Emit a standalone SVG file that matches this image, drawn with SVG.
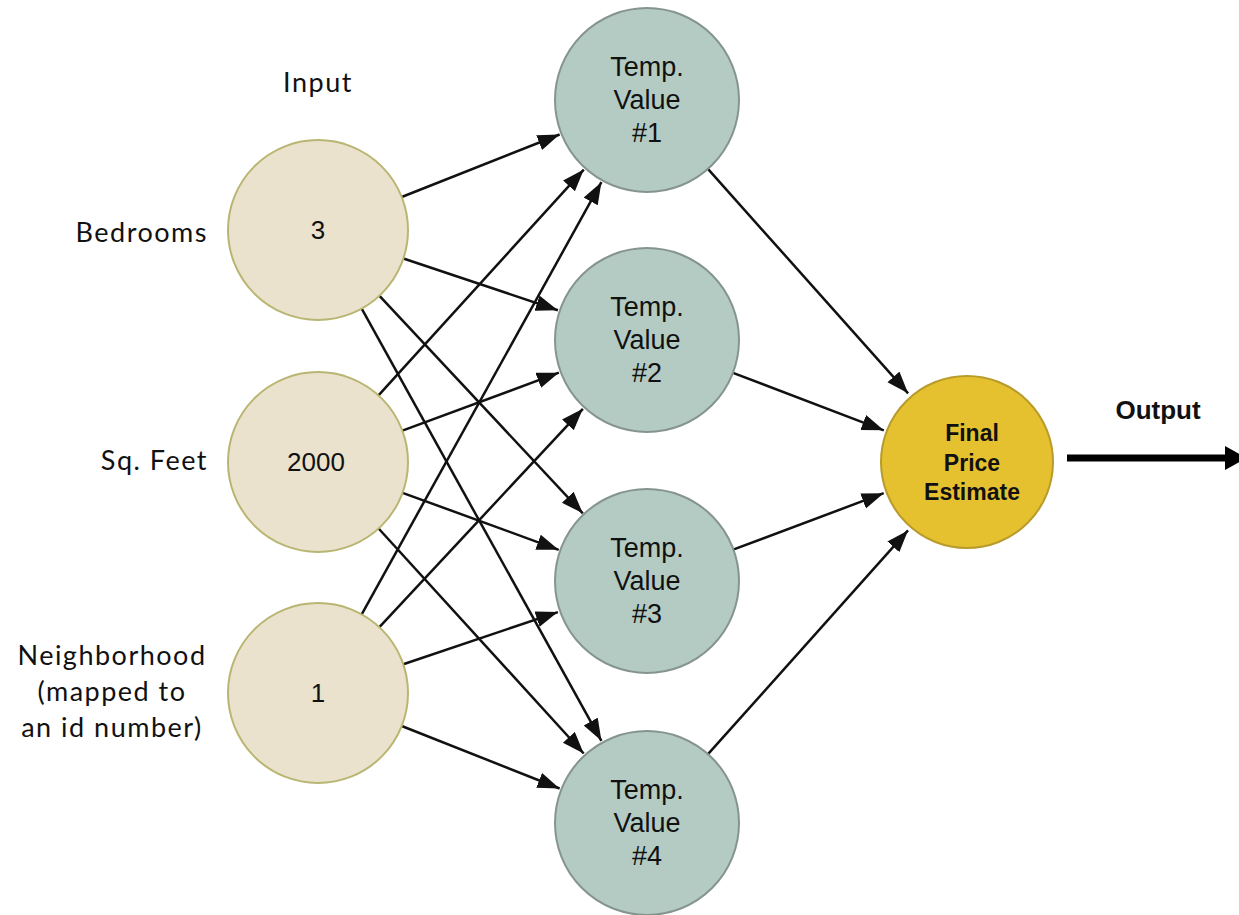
<svg xmlns="http://www.w3.org/2000/svg" width="1239" height="915" viewBox="0 0 1239 915">
<defs>
<style>
.in{fill:#ebe2cd;stroke:#b8b672;stroke-width:2}
.hid{fill:#b4cbc4;stroke:#86948f;stroke-width:2}
.out{fill:#e5c130;stroke:#b89b2a;stroke-width:2}
.edge{stroke:#111;stroke-width:2.5;fill:none;marker-end:url(#ah)}
.lbl{font-family:"Lato","Noto Sans",sans-serif;font-size:27px;letter-spacing:1.5px;fill:#111}
.val{font-family:"Liberation Sans",Arial,sans-serif;font-size:26px;fill:#111;text-anchor:middle}
.tv{font-family:"Liberation Sans",Arial,sans-serif;font-size:27px;fill:#111;text-anchor:middle}
.fp{font-family:"Liberation Sans",Arial,sans-serif;font-size:23px;font-weight:bold;fill:#111;text-anchor:middle}
</style>
<marker id="ah" markerUnits="userSpaceOnUse" markerWidth="24" markerHeight="18" refX="22" refY="8" orient="auto">
<path d="M0,0 L22,8 L0,16 z" fill="#111"/>
</marker>
</defs>
<rect width="1239" height="915" fill="#ffffff"/>

<g id="connectors">
<line class="edge" x1="401.7" y1="197" x2="559.6" y2="134.5"/>
<line class="edge" x1="403.4" y1="258.5" x2="557.9" y2="310.2"/>
<line class="edge" x1="379.5" y1="295.8" x2="582.8" y2="513.3"/>
<line class="edge" x1="361.7" y1="308.7" x2="601.4" y2="740.8"/>
<line class="edge" x1="378.5" y1="395.4" x2="583.8" y2="169.6"/>
<line class="edge" x1="402.4" y1="430.7" x2="558.9" y2="372.7"/>
<line class="edge" x1="402.6" y1="492.8" x2="558.7" y2="549.8"/>
<line class="edge" x1="378.6" y1="528.5" x2="583.7" y2="753.5"/>
<line class="edge" x1="361.7" y1="614.3" x2="601.4" y2="182.2"/>
<line class="edge" x1="379.4" y1="627.2" x2="582.9" y2="408.8"/>
<line class="edge" x1="403.3" y1="664.2" x2="557.9" y2="612.1"/>
<line class="edge" x1="401.7" y1="726" x2="559.6" y2="788.5"/>
<line class="edge" x1="707.9" y1="168.9" x2="908.1" y2="393.3"/>
<line class="edge" x1="733" y1="372.8" x2="883.8" y2="430.3"/>
<line class="edge" x1="733.1" y1="549.7" x2="883.7" y2="493.2"/>
<line class="edge" x1="708" y1="754.2" x2="908" y2="530.4"/>
<line x1="1067" y1="458" x2="1228" y2="458" stroke="#000" stroke-width="7"/>
<polygon points="1225,446 1247,458 1225,470" fill="#000"/>
</g>

<text class="lbl" x="318" y="92" text-anchor="middle">Input</text>
<text class="fp" x="1158" y="419" style="font-size:26px">Output</text>

<g id="in-bedrooms">
<circle class="in" cx="318" cy="230" r="90"/>
<text class="val" x="318" y="239">3</text>
<text class="lbl" x="208" y="242" text-anchor="end">Bedrooms</text>
</g>
<g id="in-sqfeet">
<circle class="in" cx="318" cy="462" r="90"/>
<text class="val" x="316" y="471">2000</text>
<text class="lbl" x="208" y="470" text-anchor="end">Sq. Feet</text>
</g>
<g id="in-neighborhood">
<circle class="in" cx="318" cy="693" r="90"/>
<text class="val" x="318" y="702">1</text>
<text class="lbl" x="112" y="665" text-anchor="middle">Neighborhood</text>
<text class="lbl" x="112" y="701" text-anchor="middle">(mapped to</text>
<text class="lbl" x="112" y="737" text-anchor="middle">an id number)</text>
</g>

<g id="hidden-1">
<circle class="hid" cx="647" cy="100" r="92"/>
<text class="tv" x="647" y="76">Temp.</text>
<text class="tv" x="647" y="109">Value</text>
<text class="tv" x="647" y="142">#1</text>
</g>
<g id="hidden-2">
<circle class="hid" cx="647" cy="340" r="92"/>
<text class="tv" x="647" y="316">Temp.</text>
<text class="tv" x="647" y="349">Value</text>
<text class="tv" x="647" y="382">#2</text>
</g>
<g id="hidden-3">
<circle class="hid" cx="647" cy="581" r="92"/>
<text class="tv" x="647" y="557">Temp.</text>
<text class="tv" x="647" y="590">Value</text>
<text class="tv" x="647" y="623">#3</text>
</g>
<g id="hidden-4">
<circle class="hid" cx="647" cy="823" r="92"/>
<text class="tv" x="647" y="799">Temp.</text>
<text class="tv" x="647" y="832">Value</text>
<text class="tv" x="647" y="865">#4</text>
</g>

<g id="output">
<circle class="out" cx="967" cy="462" r="86"/>
<text class="fp" x="972" y="441">Final</text>
<text class="fp" x="972" y="471">Price</text>
<text class="fp" x="972" y="500">Estimate</text>
</g>
</svg>
